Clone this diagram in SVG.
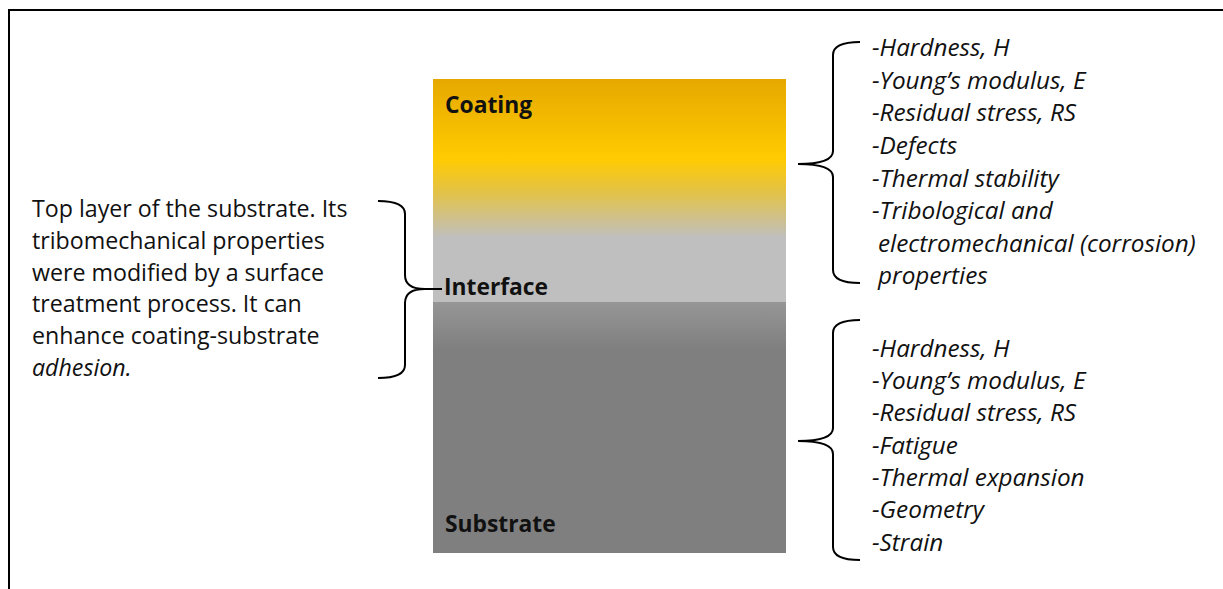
<svg xmlns="http://www.w3.org/2000/svg" width="1223" height="589" viewBox="0 0 1223 589">
<defs>
<linearGradient id="gCoat" x1="0" y1="79" x2="0" y2="238" gradientUnits="userSpaceOnUse">
<stop offset="0" stop-color="#E6A800"/>
<stop offset="0.5" stop-color="#FFCB00"/>
<stop offset="0.72" stop-color="#E2C24A"/>
<stop offset="1" stop-color="#BFBFBF"/>
</linearGradient>
<linearGradient id="gSub" x1="0" y1="302" x2="0" y2="350" gradientUnits="userSpaceOnUse">
<stop offset="0" stop-color="#969696"/>
<stop offset="1" stop-color="#7F7F7F"/>
</linearGradient>
<style>
.lbl{font-family:"Open Sans","Noto Sans",sans-serif;font-weight:bold;font-size:22.8px;fill:#111}
.desc{font-family:"Open Sans","Noto Sans",sans-serif;font-size:23.2px;fill:#111}
.prop{font-family:"Open Sans","Noto Sans",sans-serif;font-style:italic;font-size:24.3px;fill:#111}
.brace{fill:none;stroke:#000;stroke-width:2}
</style>
</defs>
<rect x="9" y="10" width="1240" height="600" fill="#fff" stroke="#000" stroke-width="2"/>
<g id="layers">
<rect x="433" y="79" width="353" height="160" fill="url(#gCoat)"/>
<rect x="433" y="238" width="353" height="64" fill="#BFBFBF"/>
<rect x="433" y="302" width="353" height="251" fill="url(#gSub)"/>
</g>
<g id="coating"><text class="lbl" x="445" y="113">Coating</text></g>
<g id="interface"><text class="lbl" x="444" y="295">Interface</text></g>
<g id="substrate"><text class="lbl" x="445" y="532">Substrate</text></g>
<g id="interface-desc">
<text class="desc" x="32" y="217">Top layer of the substrate. Its</text>
<text class="desc" x="32" y="249">tribomechanical properties</text>
<text class="desc" x="32" y="281">were modified by a surface</text>
<text class="desc" x="32" y="312">treatment process. It can</text>
<text class="desc" x="32" y="344">enhance coating-substrate</text>
<text class="desc" x="32" y="376" font-style="italic">adhesion.</text>
</g>
<g id="coating-props">
<text class="prop" x="872" y="56">-Hardness, H</text>
<text class="prop" x="872" y="89">-Young’s modulus, E</text>
<text class="prop" x="872" y="121">-Residual stress, RS</text>
<text class="prop" x="872" y="154">-Defects</text>
<text class="prop" x="872" y="187">-Thermal stability</text>
<text class="prop" x="872" y="219">-Tribological and</text>
<text class="prop" x="878" y="252">electromechanical (corrosion)</text>
<text class="prop" x="878" y="284">properties</text>
</g>
<g id="substrate-props">
<text class="prop" x="872" y="357">-Hardness, H</text>
<text class="prop" x="872" y="389">-Young’s modulus, E</text>
<text class="prop" x="872" y="421">-Residual stress, RS</text>
<text class="prop" x="872" y="454">-Fatigue</text>
<text class="prop" x="872" y="486">-Thermal expansion</text>
<text class="prop" x="872" y="518">-Geometry</text>
<text class="prop" x="872" y="551">-Strain</text>
</g>
<g id="connectors">
<path class="brace" d="M378,201 Q405,201 405,214 L405,275 Q405,289 425,289 L442,289 M425,289 Q405,289 405,303 L405,365 Q405,378 378,378"/>
<path class="brace" d="M860,42 Q833,42 833,55 L833,151 Q833,164 798,164 M798,164 Q833,164 833,177 L833,270 Q833,283 860,283"/>
<path class="brace" d="M860,320 Q833,320 833,333 L833,428 Q833,441 798,441 M798,441 Q833,441 833,454 L833,547 Q833,560 860,560"/>
</g>
</svg>
